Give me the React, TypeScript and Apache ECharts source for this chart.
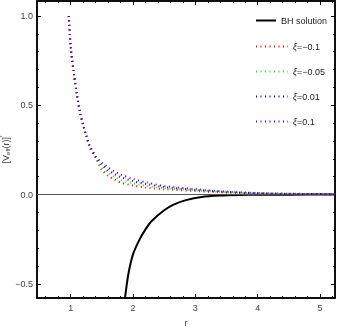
import React, { useEffect, useRef } from "react";
import * as echarts from "echarts";

// dotted curves: shared r grid
const rGrid = [0.97, 1.0, 1.05, 1.1, 1.15, 1.2, 1.25, 1.3, 1.4, 1.5, 1.6, 1.7, 1.8, 2.0, 2.2, 2.5, 3.0, 3.5, 4.0, 4.5, 5.0, 5.25];
const xiM01 = [1.0, 0.83, 0.68, 0.56, 0.46, 0.39, 0.33, 0.268, 0.205, 0.14, 0.105, 0.085, 0.067, 0.051, 0.04, 0.03, 0.02, 0.011, 0.006, 0.003, 0.002, 0.0015];
const xiM005 = [1.0, 0.83, 0.68, 0.56, 0.46, 0.39, 0.33, 0.272, 0.208, 0.153, 0.121, 0.1, 0.082, 0.063, 0.05, 0.036, 0.024, 0.013, 0.007, 0.004, 0.0023, 0.0017];
const xiP001 = [1.0, 0.83, 0.68, 0.56, 0.46, 0.39, 0.33, 0.276, 0.212, 0.167, 0.137, 0.115, 0.098, 0.075, 0.06, 0.042, 0.027, 0.015, 0.008, 0.0045, 0.0027, 0.0018];
const xiP01 = [1.0, 0.83, 0.68, 0.56, 0.46, 0.39, 0.33, 0.28, 0.216, 0.18, 0.152, 0.13, 0.113, 0.087, 0.07, 0.048, 0.031, 0.017, 0.009, 0.005, 0.003, 0.002];

// BH solution
const bhR = [1.84, 1.872, 1.925, 2.0, 2.1, 2.2, 2.3, 2.5, 2.65, 2.85, 3.1, 3.4, 3.7, 4.0, 4.5, 5.25];
const bhV = [-0.66, -0.577, -0.446, -0.335, -0.255, -0.195, -0.148, -0.088, -0.056, -0.031, -0.013, -0.005, -0.002, -0.001, -0.0003, 0];

const seriesNames = ["ξ=−0.1", "ξ=−0.05", "ξ=0.01", "ξ=0.1"];
const seriesColors = ["#ff0000", "#00ff00", "#0000ff", "#800080"];
const seriesValues = [xiM01, xiM005, xiP001, xiP01];

const xMajor = [1, 2, 3, 4, 5];
const yMajor = [-0.5, 0, 0.5, 1.0];
const X_MIN = 0.46, X_MAX = 5.24, Y_MIN = -0.579, Y_MAX = 1.084;

const xMinor: number[] = [];
for (let i = 5; i <= 52; i++) { if (i % 2 === 0 && i % 10 !== 0) xMinor.push(i / 10); }
const yMinor: number[] = [];
for (let i = -5; i <= 10; i++) { if (i % 5 !== 0) yMinor.push(i / 10); }

const labelColor = "#444";
const fontFamily = "'Liberation Sans', Arial, sans-serif";

function fmtY(v: number) {
  return v.toFixed(1).replace("-", "−");
}

export default function App() {
  const ref = useRef<HTMLDivElement>(null);
  useEffect(() => {
    if (!ref.current) return;
    const chart = echarts.init(ref.current, undefined, { renderer: "svg" });
    const mkX = (pos: "bottom" | "top", major: boolean, withLabel: boolean): any => ({
      type: "value",
      position: pos,
      min: X_MIN,
      max: X_MAX,
      axisLine: major
        ? { show: true, onZero: false, lineStyle: { color: "#000", width: 1.5 } }
        : { show: false, onZero: false },
      splitLine: { show: false },
      axisTick: { show: true, inside: true, length: major ? 4 : 2, lineStyle: { color: "#000", width: 1 }, customValues: major ? xMajor : xMinor },
      axisLabel: withLabel
        ? { show: true, customValues: xMajor, fontSize: 9, color: labelColor, margin: 5, fontFamily }
        : { show: false },
      ...(withLabel
        ? { name: "r", nameLocation: "middle", nameGap: 20, nameMoveOverlap: false, nameTextStyle: { fontSize: 9, color: labelColor, fontFamily } }
        : {}),
    });
    const mkY = (pos: "left" | "right", major: boolean, withLabel: boolean): any => ({
      type: "value",
      position: pos,
      min: Y_MIN,
      max: Y_MAX,
      axisLine: major
        ? { show: true, onZero: false, lineStyle: { color: "#000", width: 1.5 } }
        : { show: false, onZero: false },
      splitLine: { show: false },
      axisTick: { show: true, inside: true, length: major ? 4 : 2, lineStyle: { color: "#000", width: 1 }, customValues: major ? yMajor : yMinor },
      axisLabel: withLabel
        ? { show: true, customValues: yMajor, fontSize: 9, color: labelColor, margin: 4, fontFamily, formatter: (v: number) => fmtY(v) }
        : { show: false },
      ...(withLabel
        ? {
            name: "[V{sub|eff}(r)]{sup|′}",
            nameLocation: "middle",
            nameGap: 25,
            nameMoveOverlap: false,
            nameRotate: 90,
            nameTextStyle: {
              fontSize: 9,
              color: labelColor,
              fontFamily,
              rich: {
                sub: { fontSize: 6, color: labelColor, fontFamily, padding: [5, 0, 0, 0] },
                sup: { fontSize: 7, color: labelColor, fontFamily, padding: [0, 0, 6, 0] },
              },
            },
          }
        : {}),
    });

    const dotted: any[] = seriesNames.map((name, i) => ({
      name,
      type: "line",
      xAxisIndex: 0,
      yAxisIndex: 0,
      data: rGrid.map((r, k) => [r, seriesValues[i][k]]),
      smooth: 0.3,
      symbol: "none",
      showSymbol: false,
      color: seriesColors[i],
      lineStyle: { color: seriesColors[i], width: 2, type: [1, 3.5] },
      z: 3 + i,
    }));

    const legendCommon = {
      left: 250,
      itemHeight: 10,
      itemStyle: { opacity: 0, borderWidth: 0 },
    };

    chart.setOption({
      animation: false,
      grid: { left: 37, right: 2, top: 1, bottom: 30, containLabel: false, outerBoundsMode: "none", show: true, borderColor: "#000", borderWidth: 1.5 },
      xAxis: [mkX("bottom", true, true), mkX("bottom", false, false), mkX("top", true, false), mkX("top", false, false)],
      yAxis: [mkY("left", true, true), mkY("left", false, false), mkY("right", true, false), mkY("right", false, false)],
      legend: [
        {
          ...legendCommon,
          data: ["BH solution"],
          top: 11,
          itemWidth: 20,
          textStyle: { fontSize: 9, color: "#222", fontFamily },
        },
        {
          ...legendCommon,
          data: seriesNames,
          orient: "vertical",
          top: 37,
          itemWidth: 32,
          itemGap: 16,
          formatter: (name: string) => "{i|ξ}" + name.slice(1),
          textStyle: {
            fontSize: 9,
            color: "#222",
            fontFamily,
            rich: { i: { fontSize: 9, fontStyle: "italic", color: "#222", fontFamily } },
          },
        },
      ],
      series: [
        {
          name: "BH solution",
          type: "line",
          xAxisIndex: 0,
          yAxisIndex: 0,
          data: bhR.map((r, k) => [r, bhV[k]]),
          smooth: 0.3,
          symbol: "none",
          showSymbol: false,
          color: "#000",
          lineStyle: { color: "#000", width: 2 },
          clip: true,
          z: 2,
          markLine: {
            silent: true,
            symbol: "none",
            label: { show: false },
            lineStyle: { color: "#555", width: 1, type: "solid" },
            data: [{ yAxis: 0 }],
          },
        },
        ...dotted,
      ],
    });
    return () => chart.dispose();
  }, []);
  return <div ref={ref} style={{ position: "fixed", left: 0, top: 0, width: 337, height: 328 }} />;
}
